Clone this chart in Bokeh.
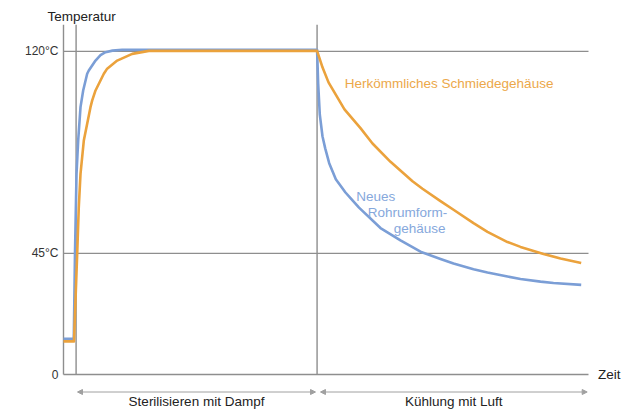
from bokeh.plotting import figure
from bokeh.models import Range1d, FixedTicker, Label, Arrow, NormalHead
from bokeh.embed import file_html
from bokeh.resources import INLINE

# ---- data (time in arbitrary units 0..100, temperature in °C) ----
blue_t = [0, 1.96, 2.19, 2.48, 2.80, 3.24, 3.75, 4.51, 4.82, 6.10, 7.05, 8.0, 9.33, 11.18, 48.30,
          48.51, 48.82, 49.33, 49.85, 50.61, 51.87, 53.71, 54.67, 56.29, 60.38, 64.19, 68.0,
          71.81, 74.29, 78.10, 80.76, 84.57, 87.05, 90.86, 93.33, 98.61]
blue_T = [13.3, 13.3, 45.0, 74.5, 87.0, 99.3, 105.5, 111.7, 112.9, 116.6, 118.6, 119.7, 120.3, 120.6, 120.6,
          108.0, 96.5, 88.5, 84.0, 78.5, 72.5, 67.6, 65.5, 62.0, 54.4, 49.8, 45.6,
          42.9, 41.2, 39.1, 37.9, 36.4, 35.5, 34.5, 34.0, 33.3]

orange_t = [0, 2.0, 2.61, 2.91, 3.24, 3.87, 5.14, 5.47, 6.10, 7.68, 8.32, 10.23, 13.09, 16.25, 48.30,
            49.33, 50.48, 53.52, 56.57, 58.86, 62.29, 66.48, 68.38, 71.81, 74.29, 78.10, 80.76,
            84.57, 87.05, 91.43, 94.67, 98.61]
orange_T = [12.3, 12.3, 45.0, 62.1, 74.5, 86.9, 99.3, 101.8, 105.5, 111.7, 113.6, 116.6, 119.1, 120.2, 120.2,
            114.1, 108.5, 98.5, 91.5, 85.8, 79.0, 71.8, 69.0, 64.4, 61.2, 56.2, 53.0,
            49.2, 47.4, 44.8, 43.1, 41.4]

y_ticks = [0, 45, 120]
y_tick_labels = ["0", "45°C", "120°C"]
t_end = 100
phase_bounds = [2.4, 48.3]
phase_labels = ["Sterilisieren mit Dampf", "Kühlung mit Luft"]
series_names = ["Herkömmliches Schmiedegehäuse", "Neues", "Rohrumform-", "gehäuse"]

BLUE = "#7b9ed6"
ORANGE = "#eba23c"
BLUE_TXT = "#86a8dc"
ORANGE_TXT = "#eca84a"
GRID = "#8e8e8e"
ARROW = "#a0a0a0"
INK = "#222222"
FONT = "Liberation Sans"

T_TOP = 130.0
p = figure(width=630, height=418, output_backend="svg", toolbar_location=None,
           x_axis_location=None,
           x_range=Range1d(-0.952, 108.0), y_range=Range1d(-16.34, T_TOP),
           min_border_left=58, min_border_right=0, min_border_top=24, min_border_bottom=0)
p.outline_line_color = None
p.ygrid.grid_line_color = None
p.xgrid.grid_line_color = None

p.title.text = "Temperatur"
p.title.align = "left"
p.title.offset = -11
p.title.vertical_align = "middle"
p.title.standoff = 0
p.title.text_font = FONT
p.title.text_font_size = "13.5px"
p.title.text_font_style = "normal"
p.title.text_color = INK

p.yaxis.ticker = FixedTicker(ticks=y_ticks)
p.yaxis.major_label_overrides = {k: v for k, v in zip(y_ticks, y_tick_labels)}
p.yaxis.major_tick_line_color = None
p.yaxis.minor_tick_line_color = None
p.yaxis.major_tick_out = 0
p.yaxis.major_label_standoff = 0
p.yaxis.axis_line_color = None
p.yaxis.major_label_text_font = FONT
p.yaxis.major_label_text_font_size = "12px"
p.yaxis.major_label_text_color = "#333333"

# horizontal guides: grid lines at the ticks (0 = time axis)
p.segment(x0=[0] * len(y_ticks), y0=y_ticks, x1=[t_end] * len(y_ticks), y1=y_ticks,
          line_color=GRID, line_width=1.3)
# vertical guides: temperature axis and phase boundaries
vx = [0] + phase_bounds
p.segment(x0=vx, y0=[0] * len(vx), x1=vx, y1=[T_TOP] * len(vx),
          line_color=GRID, line_width=1.4)

p.line(blue_t, blue_T, line_color=BLUE, line_width=2.6, line_join="round")
p.line(orange_t, orange_T, line_color=ORANGE, line_width=2.6, line_join="round")

# phase arrows and labels below the time axis
arrow_y = -6.5
spans = [(phase_bounds[0] + 0.27, phase_bounds[1] - 0.3), (phase_bounds[1] + 0.65, t_end - 0.25)]
for (a, b), txt in zip(spans, phase_labels):
    p.add_layout(Arrow(start=NormalHead(size=5, fill_color=ARROW, line_color=ARROW, line_width=1),
                       end=NormalHead(size=5, fill_color=ARROW, line_color=ARROW, line_width=1),
                       x_start=a, y_start=arrow_y, x_end=b, y_end=arrow_y,
                       line_color=ARROW, line_width=1))
    p.add_layout(Label(x=(a + b) / 2, y=-10.0, text=txt, text_align="center",
                       text_baseline="middle", text_font=FONT, text_font_size="13.5px",
                       text_color=INK))

p.add_layout(Label(x=101.8, y=0, text="Zeit", text_align="left",
                   text_baseline="middle", text_font=FONT, text_font_size="13.5px",
                   text_color=INK))

p.add_layout(Label(x=53.58, y=108.2, text=series_names[0], text_align="left",
                   text_baseline="middle", text_font=FONT, text_font_size="13.5px",
                   text_color=ORANGE_TXT))
for (xx, yy), txt in zip([(55.75, 66.2), (57.96, 60.3), (62.91, 54.3)], series_names[1:]):
    p.add_layout(Label(x=xx, y=yy, text=txt, text_align="left",
                       text_baseline="middle", text_font=FONT, text_font_size="13.5px",
                       text_color=BLUE_TXT))

open("out.html", "w").write(file_html(p, INLINE))
